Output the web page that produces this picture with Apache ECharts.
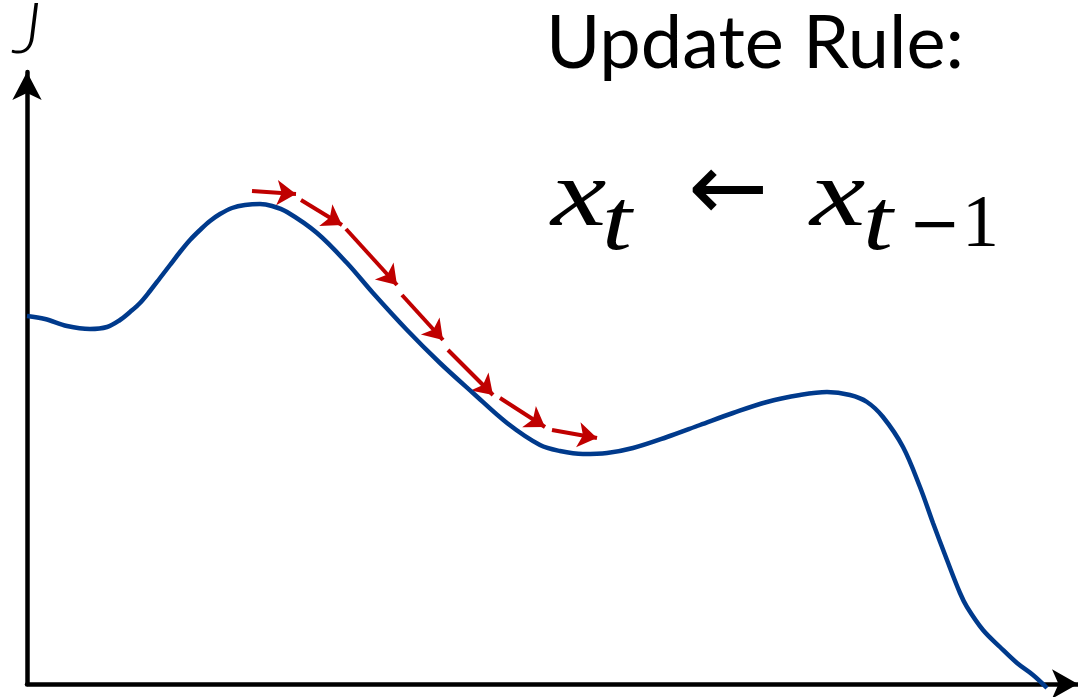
<!DOCTYPE html>
<html><head><meta charset="utf-8">
<script src="https://cdn.jsdelivr.net/npm/echarts@6/dist/echarts.min.js"></script>
<style>html,body{margin:0;padding:0;background:#fff}#c{width:1078px;height:697px}</style>
</head><body><div id="c"></div>
<script>
// Blue cost curve J(x)
const curveX = [0, 18, 40, 63, 80, 93, 103, 113, 123, 133, 143, 153, 163, 173, 183, 193, 205, 218, 233, 245, 260, 290, 320, 346, 380, 413, 446, 480, 513, 533, 556, 580, 606, 640, 673, 706, 740, 773, 800, 823, 840, 856, 876, 893, 906, 920, 933, 940, 956, 973, 990, 1006, 1020];
const curveY = [368, 365, 358, 355, 357, 364, 372, 381, 393, 406, 419, 432, 444, 454, 463, 470, 476, 479, 480, 478, 472, 451, 421, 391, 354, 321, 291, 261, 239, 233, 230, 231, 236, 247, 259, 271, 282, 289, 292, 289, 282, 267, 237, 197, 161, 124, 91, 77, 54, 37, 21, 9, -4];
// Red gradient-descent steps
const stepFromX = [225, 274, 319, 375, 421, 473, 525];
const stepFromY = [493, 484, 455, 389, 334, 286, 254];
const stepToX   = [269, 315, 370, 416, 466, 518, 570];
const stepToY   = [490, 459, 399, 344, 289, 257, 246];
const yAxisName = 'J';
const ruleTitle = 'Update Rule:';

const curveData = curveX.map((x, i) => [x, curveY[i]]);
const stepData = stepFromX.map((x, i) => ({ coords: [[x, stepFromY[i]], [stepToX[i], stepToY[i]]] }));

const serif = '"Liberation Serif", "DejaVu Serif", serif';
const chart = echarts.init(document.getElementById('c'), null, { renderer: 'canvas' });
chart.setOption({
  backgroundColor: '#ffffff',
  animation: false,
  grid: { left: 27, right: 0, top: 72, bottom: 13, containLabel: false, outerBoundsMode: 'none' },
  xAxis: {
    type: 'value', min: 0, max: 1051,
    axisLine: { show: true, onZero: false, symbol: ['none', 'arrow'], symbolSize: [22, 26], lineStyle: { color: '#000', width: 4.5 } },
    axisTick: { show: false }, axisLabel: { show: false }, splitLine: { show: false }
  },
  yAxis: {
    type: 'value', min: 0, max: 612,
    name: yAxisName, nameLocation: 'end', nameGap: 6,
    nameTextStyle: { fontFamily: 'Lato', fontStyle: 'italic', fontWeight: 300, fontSize: 72, color: '#000', align: 'center' },
    axisLine: { show: true, symbol: ['none', 'arrow'], symbolSize: [22, 28], lineStyle: { color: '#000', width: 4.5 } },
    axisTick: { show: false }, axisLabel: { show: false }, splitLine: { show: false }
  },
  series: [
    {
      type: 'line', data: curveData, smooth: 0.35, showSymbol: false, clip: false,
      lineStyle: { color: '#003A8C', width: 4.5 }
    },
    {
      type: 'lines', coordinateSystem: 'cartesian2d', data: stepData,
      symbol: ['none', 'arrow'], symbolSize: 19,
      lineStyle: { color: '#C00000', width: 4, opacity: 1 }
    }
  ],
  graphic: [
    { type: 'text', left: 546, top: 7, style: { text: ruleTitle, fontFamily: 'Lato', fontSize: 74, fill: '#000' } },
    { type: 'text', x: 551, y: 200, scaleX: 1.3, style: { text: 'x', fontFamily: serif, fontStyle: 'italic', fontSize: 96, fill: '#000', verticalAlign: 'middle' } },
    { type: 'text', x: 602, y: 226, scaleX: 1.25, style: { text: 't', fontFamily: serif, fontStyle: 'italic', fontSize: 86, fill: '#000', verticalAlign: 'middle' } },
    { type: 'text', x: 688, y: 195, style: { text: '←', fontFamily: '"DejaVu Sans"', fontSize: 96, fill: '#000', verticalAlign: 'middle' } },
    { type: 'text', x: 810, y: 200, scaleX: 1.3, style: { text: 'x', fontFamily: serif, fontStyle: 'italic', fontSize: 96, fill: '#000', verticalAlign: 'middle' } },
    { type: 'text', x: 863, y: 226, scaleX: 1.25, style: { text: 't', fontFamily: serif, fontStyle: 'italic', fontSize: 86, fill: '#000', verticalAlign: 'middle' } },
    { type: 'text', x: 909, y: 228, style: { text: '−', fontFamily: '"DejaVu Sans"', fontSize: 62, fill: '#000', verticalAlign: 'middle' } },
    { type: 'text', x: 962, y: 227, style: { text: '1', fontFamily: serif, fontSize: 74, fill: '#000', verticalAlign: 'middle' } }
  ]
});
</script></body></html>
